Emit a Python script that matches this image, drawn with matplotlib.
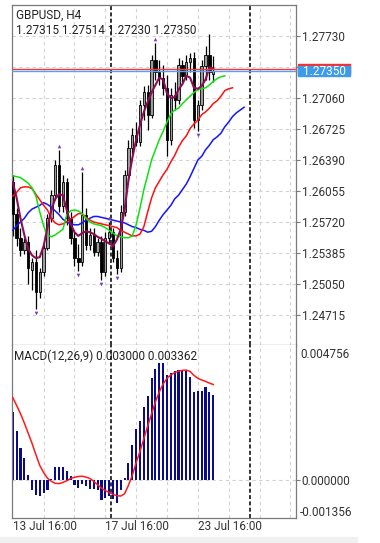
import numpy as np
import matplotlib
matplotlib.use('Agg')
import matplotlib.pyplot as plt
import matplotlib.transforms as mtransforms
from matplotlib.patches import Rectangle

plt.rcParams['font.family'] = ['Roboto', 'DejaVu Sans']

# GBPUSD H4 bars, index 0 = 13 Jul 16:00
opens = [1.26152, 1.25807, 1.25547, 1.25418, 1.25504, 1.25201, 1.25288, 1.24964, 1.25180, 1.25439,
         1.25763, 1.26012, 1.26336, 1.25893, 1.26152, 1.25763, 1.25547, 1.25331, 1.25288, 1.25796,
         1.25472, 1.25580, 1.25396, 1.25504, 1.25180, 1.25547, 1.25612, 1.25331, 1.25223, 1.25828,
         1.26228, 1.26520, 1.26660, 1.26585, 1.26984, 1.27125, 1.26876, 1.27471, 1.27341, 1.27276,
         1.27168, 1.26606, 1.27092, 1.27038, 1.27417, 1.27298, 1.27449, 1.27492, 1.26822, 1.26984,
         1.27406, 1.27525, 1.27315]
highs = [1.26228, 1.25871, 1.25655, 1.25547, 1.25569, 1.25331, 1.25418, 1.25223, 1.25482, 1.25807,
         1.26066, 1.26390, 1.26498, 1.26228, 1.26196, 1.25828, 1.25612, 1.25482, 1.26260, 1.25871,
         1.25655, 1.25655, 1.25547, 1.25569, 1.25612, 1.25720, 1.25655, 1.25418, 1.25904, 1.26282,
         1.26606, 1.26736, 1.26801, 1.27038, 1.27190, 1.27201, 1.27525, 1.27654, 1.27471, 1.27417,
         1.27309, 1.27168, 1.27233, 1.27492, 1.27471, 1.27525, 1.27546, 1.27557, 1.27038, 1.27471,
         1.27622, 1.27752, 1.27514]
lows = [1.25569, 1.25461, 1.25353, 1.25374, 1.25050, 1.24985, 1.24780, 1.24899, 1.25137, 1.25418,
        1.25720, 1.25958, 1.25828, 1.25828, 1.25688, 1.25482, 1.25245, 1.25191, 1.25245, 1.25418,
        1.25418, 1.25353, 1.25353, 1.25093, 1.25137, 1.25482, 1.25288, 1.25158, 1.25180, 1.25785,
        1.26174, 1.26455, 1.26541, 1.26541, 1.26822, 1.26714, 1.26844, 1.27255, 1.27201, 1.27092,
        1.26433, 1.26552, 1.26930, 1.26995, 1.27233, 1.27255, 1.27341, 1.26736, 1.26703, 1.26930,
        1.27255, 1.27255, 1.27230]
closes = [1.25807, 1.25547, 1.25418, 1.25504, 1.25223, 1.25288, 1.24964, 1.25180, 1.25439, 1.25763,
          1.26012, 1.26336, 1.25893, 1.26152, 1.25763, 1.25547, 1.25331, 1.25288, 1.25796, 1.25472,
          1.25580, 1.25396, 1.25504, 1.25180, 1.25547, 1.25612, 1.25331, 1.25223, 1.25828, 1.26228,
          1.26520, 1.26660, 1.26585, 1.26984, 1.27125, 1.26876, 1.27471, 1.27341, 1.27276, 1.27168,
          1.26606, 1.27092, 1.27038, 1.27417, 1.27298, 1.27449, 1.27492, 1.26822, 1.26984, 1.27406,
          1.27525, 1.27341, 1.27350]

# moving average (dark magenta) and alligator lines (lips/teeth/jaw are shifted forward)
ma_fast = [1.2615, 1.2598, 1.2576, 1.2558, 1.2543, 1.2536, 1.2533, 1.2534, 1.2546, 1.2566,
           1.2585, 1.2597, 1.2602, 1.2601, 1.2585, 1.2570, 1.2561, 1.2557, 1.2560, 1.2562,
           1.2561, 1.2559, 1.2556, 1.2554, 1.2551, 1.2549, 1.2546, 1.2553, 1.2564, 1.2585,
           1.2617, 1.2641, 1.2661, 1.2677, 1.2691, 1.2702, 1.2712, 1.2720, 1.2728, 1.2726,
           1.2711, 1.2706, 1.2707, 1.2715, 1.2721, 1.2730, 1.2728, 1.2717, 1.2716, 1.2719,
           1.2726, 1.2739, 1.2738]
lips = [1.2622, 1.2621, 1.2620, 1.2617, 1.2614, 1.2609, 1.2600, 1.2583, 1.2568, 1.2558,
        1.2556, 1.2558, 1.2561, 1.2564, 1.2580, 1.2584, 1.2585, 1.2584, 1.2581, 1.2576,
        1.2572, 1.2570, 1.2569, 1.2568, 1.2566, 1.2563, 1.2560, 1.2557, 1.2556, 1.2555,
        1.2555, 1.2557, 1.2569, 1.2587, 1.2607, 1.2623, 1.2639, 1.2650, 1.2661, 1.2670,
        1.2680, 1.2689, 1.2693, 1.2695, 1.2700, 1.2704, 1.2708, 1.2712, 1.2715, 1.2716,
        1.2717, 1.2720, 1.2724, 1.2727, 1.2729, 1.2730]
teeth = [1.2600, 1.2604, 1.2609, 1.2610, 1.2610, 1.2608, 1.2602, 1.2596, 1.2590, 1.2585,
         1.2576, 1.2571, 1.2569, 1.2570, 1.2572, 1.2575, 1.2578, 1.2581, 1.2581, 1.2577,
         1.2574, 1.2572, 1.2571, 1.2570, 1.2569, 1.2568, 1.2567, 1.2566, 1.2563, 1.2561,
         1.2559, 1.2557, 1.2557, 1.2559, 1.2567, 1.2583, 1.2598, 1.2609, 1.2616, 1.2623,
         1.2629, 1.2637, 1.2644, 1.2653, 1.2660, 1.2665, 1.2673, 1.2678, 1.2682, 1.2688,
         1.2691, 1.2695, 1.2700, 1.2703, 1.2708, 1.2714, 1.2716, 1.2717]
jaw = [1.2563, 1.2568, 1.2572, 1.2576, 1.2582, 1.2586, 1.2588, 1.2590, 1.2593, 1.2591,
       1.2588, 1.2584, 1.2580, 1.2575, 1.2572, 1.2570, 1.2569, 1.2569, 1.2571, 1.2574,
       1.2576, 1.2578, 1.2578, 1.2577, 1.2576, 1.2575, 1.2574, 1.2573, 1.2572, 1.2571,
       1.2569, 1.2567, 1.2566, 1.2564, 1.2563, 1.2561, 1.2562, 1.2567, 1.2574, 1.2580,
       1.2585, 1.2590, 1.2597, 1.2601, 1.2607, 1.2613, 1.2621, 1.2630, 1.2639, 1.2643,
       1.2650, 1.2655, 1.2661, 1.2664, 1.2668, 1.2675, 1.2680, 1.2686, 1.2690, 1.2693,
       1.2696]

fractal_up = [12, 18, 25, 37]
fractal_down = [6, 17, 23, 27, 48]

macd_hist = [0.00238, 0.00171, 0.00113, 0.00075, 0.00018, -0.00036, -0.00053, -0.00057, -0.00046, -0.00036,
             0.00001, 0.00044, 0.00044, 0.00044, 0.00030, 0.00012, -0.00018, -0.00029, -0.00015, -0.00024,
             -0.00033, -0.00033, -0.00036, -0.00071, -0.00065, -0.00059, -0.00068, -0.00083, -0.00035, 0.00005,
             0.00058, 0.00124, 0.00180, 0.00208, 0.00256, 0.00297, 0.00359, 0.00390, 0.00412, 0.00412,
             0.00368, 0.00378, 0.00383, 0.00388, 0.00385, 0.00385, 0.00362, 0.00309, 0.00314, 0.00314,
             0.00327, 0.00310, 0.00300]
macd_signal = [0.00290, 0.00262, 0.00233, 0.00200, 0.00164, 0.00128, 0.00088, 0.00050, 0.00025, 0.00005,
               -0.00006, -0.00013, -0.00014, -0.00010, -0.00004, 0.00004, 0.00008, 0.00011, 0.00012, 0.00009,
               0.00004, -0.00006, -0.00018, -0.00030, -0.00039, -0.00045, -0.00052, -0.00057, -0.00058, -0.00050,
               -0.00020, 0.00015, 0.00060, 0.00100, 0.00145, 0.00190, 0.00232, 0.00275, 0.00310, 0.00338,
               0.00358, 0.00370, 0.00378, 0.00383, 0.00386, 0.00387, 0.00382, 0.00368, 0.00358, 0.00352,
               0.00347, 0.00341, 0.00336]

price_ticks = [1.27730, 1.27395, 1.27060, 1.26725, 1.26390, 1.26055, 1.25720, 1.25385, 1.25050, 1.24715]
price_labels = ['1.27730', '', '1.27060', '1.26725', '1.26390', '1.26055', '1.25720', '1.25385', '1.25050', '1.24715']
price_range = (1.24391, 1.28065)
macd_range = (-0.001356, 0.004756)
ask_price = 1.27372
bid_price = 1.27350
date_labels = [(0, '13 Jul 16:00'), (24, '17 Jul 16:00'), (48, '23 Jul 16:00')]
separators = [25.6, 61.5]

W, H = 380, 543
def box(l, t, r, b):
    return [l / W, 1 - b / H, (r - l) / W, (b - t) / H]

fig = plt.figure(figsize=(W / 100, H / 100), dpi=100)
fig.patch.set_facecolor('white')
ax1 = fig.add_axes(box(12, 5, 296, 345))
ax2 = fig.add_axes(box(12, 345, 296, 518))

xlim = (-0.2, 73.46)
grid_kw = dict(color='#d2d2d2', lw=0.8, ls=(0, (3, 3)), zorder=0)
for ax in (ax1, ax2):
    ax.set_xlim(*xlim)
    for s in ax.spines.values():
        s.set_color('#7a7a7a')
        s.set_linewidth(0.9)
    ax.set_xticks([])
    for gx in np.arange(8, 73, 8):
        ax.axvline(gx, **grid_kw)
    for sx in separators:
        ax.axvline(sx, color='#222222', lw=1.3, ls=(0, (2.2, 1.3)), zorder=1)

# price panel
ax1.set_ylim(*price_range)
for p in price_ticks:
    ax1.axhline(p, **grid_kw)
ax1.yaxis.tick_right()
ax1.set_yticks(price_ticks)
ax1.set_yticklabels(price_labels)
ax1.tick_params(axis='y', direction='out', length=3, width=0.8, color='#7a7a7a',
                labelsize=8.5, labelcolor='#333333', pad=1)

idx = np.arange(len(closes))
o = np.array(opens); c = np.array(closes)
ax1.vlines(idx, lows, highs, color='black', lw=0.9, zorder=2)
up = c >= o
ax1.bar(idx[up], (c - o)[up], bottom=o[up], width=0.62, color='#9c9c9c',
        edgecolor='black', linewidth=0.6, zorder=3)
ax1.bar(idx[~up], (c - o)[~up], bottom=o[~up], width=0.62, color='black',
        edgecolor='black', linewidth=0.6, zorder=3)

ax1.plot(np.arange(len(jaw)), jaw, color='#1414ff', lw=1.1, zorder=4)
ax1.plot(np.arange(len(teeth)), teeth, color='#ff1010', lw=1.1, zorder=4)
ax1.plot(np.arange(len(lips)), lips, color='#10e010', lw=1.1, zorder=4)
ax1.plot(np.arange(len(ma_fast)), ma_fast, color='#8e0c55', lw=1.5, zorder=5)

off = 0.00045
ax1.scatter(fractal_up, [highs[i] + off for i in fractal_up], marker='^', s=7,
            color='#7a3cc8', linewidths=0, zorder=6)
ax1.scatter(fractal_down, [lows[i] - off for i in fractal_down], marker='v', s=7,
            color='#7a3cc8', linewidths=0, zorder=6)

ax1.axhline(ask_price, color='#ff3333', lw=1.0, zorder=5)
ax1.axhline(bid_price, color='#4fa5f2', lw=1.0, zorder=5)

# price tags on the right axis: ask tag sits behind the bid tag
trans = mtransforms.blended_transform_factory(ax1.transAxes, ax1.transData)
bw = 52 / 284
bh = 0.00115
ax1.add_patch(Rectangle((1.007, ask_price - bh / 2), bw, bh, transform=trans,
                        color='#ff2b2b', clip_on=False, zorder=10))
ax1.add_patch(Rectangle((1.007, bid_price - bh / 2), bw, bh, transform=trans,
                        color='#3d9be9', clip_on=False, zorder=11))
ax1.text(1.007 + bw / 2, bid_price, '%.5f' % bid_price, transform=trans, ha='center', va='center',
         color='white', fontsize=8.5, clip_on=False, zorder=12)

# MACD panel
ax2.set_ylim(*macd_range)
ax2.axhline(0, **grid_kw)
ax2.bar(idx, macd_hist, width=0.55, color='#0a0a8c', zorder=2)
ax2.plot(idx, macd_signal, color='#ff1a1a', lw=1.1, zorder=3)
ax2.yaxis.tick_right()
ax2.set_yticks([0.0])
ax2.set_yticklabels(['0.000000'])
ax2.tick_params(axis='y', direction='out', length=3, width=0.8, color='#7a7a7a',
                labelsize=8.5, labelcolor='#333333', pad=1)
ax2.spines['top'].set_visible(False)

fig.text(300 / W, 1 - 354 / H, '%.6f' % macd_range[1], fontsize=8.5, color='#333333', va='center')
fig.text(300 / W, 1 - 512 / H, '-%.6f' % abs(macd_range[0]), fontsize=8.5, color='#333333', va='center')

dtrans = mtransforms.blended_transform_factory(ax2.transData, ax2.transAxes)
for i, lab in date_labels:
    ax2.text(i + 0.05, -0.05, lab, transform=dtrans, ha='left', va='center',
             fontsize=8.5, color='#333333', clip_on=False)

fig.text(16 / W, 1 - 15 / H, 'GBPUSD, H4', fontsize=8.5, color='#222222', va='center')
fig.text(16 / W, 1 - 30.5 / H, '%.5f %.5f %.5f %.5f' % (opens[-1], highs[-1], lows[-1], closes[-1]),
         fontsize=8.5, color='#222222', va='center')
fig.text(14 / W, 1 - 356.5 / H, 'MACD(12,26,9) %.6f %.6f' % (0.003000, macd_signal[-1] + 0.000002),
         fontsize=8.5, color='#222222', va='center')

fig.add_artist(Rectangle((0, 0), 357 / W, 6 / H, transform=fig.transFigure,
                         color='#f0f0f0', zorder=0))

fig.savefig('out.png', dpi=100)
